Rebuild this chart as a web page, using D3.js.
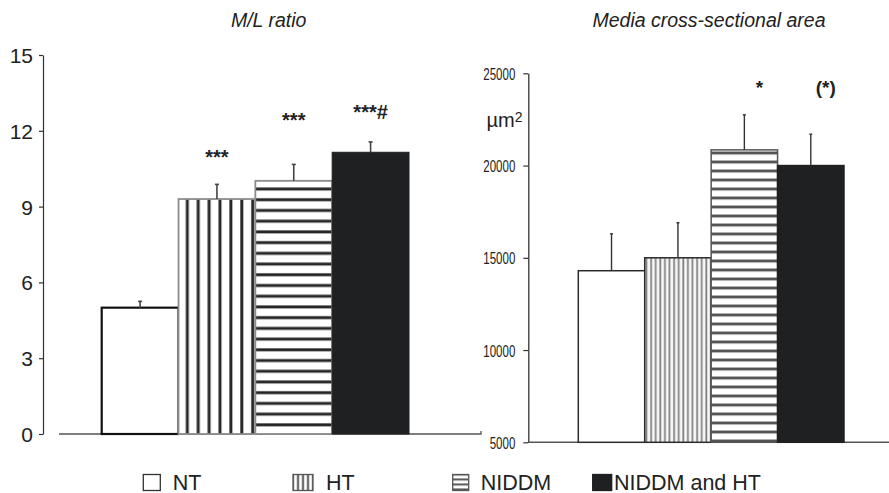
<!DOCTYPE html>
<html>
<head>
<meta charset="utf-8">
<script src="https://cdn.jsdelivr.net/npm/d3@7"></script>
<style>
  html, body { margin: 0; padding: 0; background: #fff; }
  svg { display: block; font-family: "Liberation Sans", Arial, sans-serif; }
</style>
</head>
<body>
<script>
// Groups shown in both panels
const groups = ["NT", "HT", "NIDDM", "NIDDM and HT"];

// M/L ratio panel
const mlMean = [5.0, 9.3, 10.02, 11.15];
const mlErr = [0.25, 0.58, 0.65, 0.41];
const mlTicks = [0, 3, 6, 9, 12, 15];
const mlMarks = ["", "***", "***", "***#"];
const mlMarkLevel = [null, 10.67, 12.15, 12.45];

// Media cross-sectional area panel (µm²)
const mcsaMean = [14300, 15000, 20850, 20000];
const mcsaErr = [2000, 1900, 1900, 1700];
const mcsaTicks = [5000, 10000, 15000, 20000, 25000];
const mcsaMarks = ["", "", "*", "(*)"];
const mcsaMarkLevel = [null, null, 23900, 23900];

const W = 889, H = 493;
const svg = d3.select("body").append("svg").attr("width", W).attr("height", H);
const defs = svg.append("defs");

// Stripe fills
function vStripes(id, start, step, lineW, lineColor, fringe, bg) {
  const p = defs.append("pattern").attr("id", id)
    .attr("patternUnits", "userSpaceOnUse")
    .attr("x", start - lineW / 2 - 0.6).attr("y", 0)
    .attr("width", step).attr("height", 10);
  p.append("rect").attr("width", step).attr("height", 10).attr("fill", bg);
  if (fringe) p.append("rect").attr("x", 0).attr("width", lineW + 1.2).attr("height", 10).attr("fill", fringe);
  p.append("rect").attr("x", 0.6).attr("width", lineW).attr("height", 10).attr("fill", lineColor);
}
function hStripes(id, start, step, lineW, lineColor, fringe, bg) {
  const p = defs.append("pattern").attr("id", id)
    .attr("patternUnits", "userSpaceOnUse")
    .attr("x", 0).attr("y", start - lineW / 2 - 0.6)
    .attr("width", 10).attr("height", step);
  p.append("rect").attr("width", 10).attr("height", step).attr("fill", bg);
  if (fringe) p.append("rect").attr("y", 0).attr("height", lineW + 1.2).attr("width", 10).attr("fill", fringe);
  p.append("rect").attr("y", 0.6).attr("height", lineW).attr("width", 10).attr("fill", lineColor);
}
vStripes("vL", 187.3, 10.9, 2.4, "#262626", "#9a9a9a", "#fff");
hStripes("hL", 189, 10.72, 2.4, "#262626", "#9a9a9a", "#fff");
vStripes("vR", 646.5, 4.6, 1.2, "#7d7d7d", "#c4c4c4", "#f7f7f7");
hStripes("hR", 180, 9.0, 2.0, "#3a3a3a", "#a8a8a8", "#fff");
vStripes("vLeg", 298, 5, 1.3, "#444", "#aaa", "#fff");
hStripes("hLeg", 479.5, 5, 1.3, "#444", "#aaa", "#fff");

const TXT = "#222";

// ---------- Left panel: M/L ratio ----------
{
  const y = d3.scaleLinear().domain([0, 15]).range([434, 55]);
  const x = d3.scaleBand().domain(groups).range([101.7, 409]).padding(0);
  const fills = ["#fff", "url(#vL)", "url(#hL)", "#1f2022"];
  const strokes = ["#111", "#8c8c8c", "#8c8c8c", "#1f2022"];
  const strokeW = [2.2, 1.8, 1.8, 1];

  svg.append("text").attr("x", 268.7).attr("y", 27)
    .attr("text-anchor", "middle").attr("font-size", 19.5).attr("font-style", "italic")
    .attr("fill", TXT).text("M/L ratio");

  const axis = svg.append("g").attr("transform", "translate(43,0)")
    .call(d3.axisLeft(y).tickValues(mlTicks).tickSize(4).tickSizeOuter(0).tickPadding(6));
  axis.select(".domain").attr("stroke", "#333").attr("stroke-width", 1.2);
  axis.selectAll(".tick line").attr("stroke", "#333").attr("stroke-width", 1.2);
  axis.selectAll(".tick text").attr("font-size", 21).attr("fill", TXT)
    .attr("font-family", "'Liberation Sans', Arial, sans-serif").attr("dy", "0.36em");

  // baseline
  svg.append("path")
    .attr("d", d3.line()([[59, y(0)], [481, y(0)], [481, y(0) - 3]]))
    .attr("fill", "none").attr("stroke", "#555").attr("stroke-width", 1.3);

  const g = svg.append("g");
  g.selectAll("rect").data(groups).join("rect")
    .attr("x", d => x(d)).attr("width", x.bandwidth())
    .attr("y", (d, i) => y(mlMean[i])).attr("height", (d, i) => y(0) - y(mlMean[i]))
    .attr("fill", (d, i) => fills[i]).attr("stroke", (d, i) => strokes[i])
    .attr("stroke-width", (d, i) => strokeW[i]);

  const eb = svg.append("g").attr("stroke", "#444").attr("stroke-width", 1.6);
  groups.forEach((d, i) => {
    const cx = x(d) + x.bandwidth() / 2;
    eb.append("line").attr("x1", cx).attr("x2", cx)
      .attr("y1", y(mlMean[i])).attr("y2", y(mlMean[i] + mlErr[i]));
    eb.append("line").attr("x1", cx - 2).attr("x2", cx + 2)
      .attr("y1", y(mlMean[i] + mlErr[i])).attr("y2", y(mlMean[i] + mlErr[i]));
  });

  groups.forEach((d, i) => {
    if (!mlMarks[i]) return;
    svg.append("text").attr("x", x(d) + x.bandwidth() / 2).attr("y", y(mlMarkLevel[i]))
      .attr("text-anchor", "middle").attr("font-size", 20).attr("font-weight", "bold")
      .attr("fill", TXT).text(mlMarks[i]);
  });
}

// ---------- Right panel: media cross-sectional area ----------
{
  const y = d3.scaleLinear().domain([5000, 25000]).range([442.3, 73.3]);
  const x = d3.scaleBand().domain(groups).range([578.3, 844]).padding(0);
  const fills = ["#fff", "url(#vR)", "url(#hR)", "#1f2022"];
  const strokes = ["#2a2a2a", "#2a2a2a", "#555", "#1f2022"];

  svg.append("text").attr("x", 709).attr("y", 27)
    .attr("text-anchor", "middle").attr("font-size", 19.5).attr("font-style", "italic")
    .attr("fill", TXT).text("Media cross-sectional area");

  const axis = svg.append("g").attr("transform", "translate(528.3,0)")
    .call(d3.axisLeft(y).tickValues(mcsaTicks).tickSize(5).tickSizeOuter(0).tickPadding(8)
      .tickFormat(d3.format("d")));
  axis.select(".domain").attr("stroke", "#333").attr("stroke-width", 1.3);
  axis.selectAll(".tick line").attr("stroke", "#333").attr("stroke-width", 1.2);
  axis.selectAll(".tick text").attr("font-size", 17).attr("fill", TXT)
    .attr("font-family", "'Liberation Sans', Arial, sans-serif").attr("dy", "0.36em")
    .attr("textLength", d => String(d).length * 6.4).attr("lengthAdjust", "spacingAndGlyphs");

  // unit label
  const unit = svg.append("text").attr("x", 486.5).attr("y", 127)
    .attr("font-size", 20).attr("fill", TXT);
  unit.append("tspan").text("\u00B5m");
  unit.append("tspan").attr("font-size", 14).attr("dy", -5).text("2");

  // baseline
  svg.append("line").attr("x1", 528).attr("x2", W).attr("y1", y(5000)).attr("y2", y(5000))
    .attr("stroke", "#555").attr("stroke-width", 1.4);

  const g = svg.append("g");
  g.selectAll("rect").data(groups).join("rect")
    .attr("x", d => x(d)).attr("width", x.bandwidth())
    .attr("y", (d, i) => y(mcsaMean[i])).attr("height", (d, i) => y(5000) - y(mcsaMean[i]))
    .attr("fill", (d, i) => fills[i]).attr("stroke", (d, i) => strokes[i])
    .attr("stroke-width", 1.5);

  const eb = svg.append("g").attr("stroke", "#333").attr("stroke-width", 1.4);
  groups.forEach((d, i) => {
    const cx = x(d) + x.bandwidth() / 2;
    eb.append("line").attr("x1", cx).attr("x2", cx)
      .attr("y1", y(mcsaMean[i])).attr("y2", y(mcsaMean[i] + mcsaErr[i]));
    eb.append("line").attr("x1", cx - 1.5).attr("x2", cx + 1.5)
      .attr("y1", y(mcsaMean[i] + mcsaErr[i])).attr("y2", y(mcsaMean[i] + mcsaErr[i]));
  });

  groups.forEach((d, i) => {
    if (!mcsaMarks[i]) return;
    svg.append("text").attr("x", x(d) + x.bandwidth() / 2 + 15).attr("y", y(mcsaMarkLevel[i]))
      .attr("text-anchor", "middle").attr("font-size", 19).attr("font-weight", "bold")
      .attr("fill", TXT).text(mcsaMarks[i]);
  });
}

// ---------- Legend ----------
{
  const icon = [
    { x: 143.3, w: 17, fill: "#fff", stroke: "#333" },
    { x: 293, w: 20, fill: "url(#vLeg)", stroke: "#555" },
    { x: 452.7, w: 16, fill: "url(#hLeg)", stroke: "#555" },
    { x: 592.7, w: 19, fill: "#1f2022", stroke: "#1f2022" }
  ];
  const textX = [172.7, 326, 480.7, 614];
  const lg = svg.append("g");
  groups.forEach((d, i) => {
    lg.append("rect").attr("x", icon[i].x).attr("y", 474.5).attr("width", icon[i].w).attr("height", 16)
      .attr("fill", icon[i].fill).attr("stroke", icon[i].stroke).attr("stroke-width", 1.3);
    lg.append("text").attr("x", textX[i]).attr("y", 489.5).attr("font-size", 21.5)
      .attr("fill", TXT).text(d);
  });
}
</script>
</body>
</html>
